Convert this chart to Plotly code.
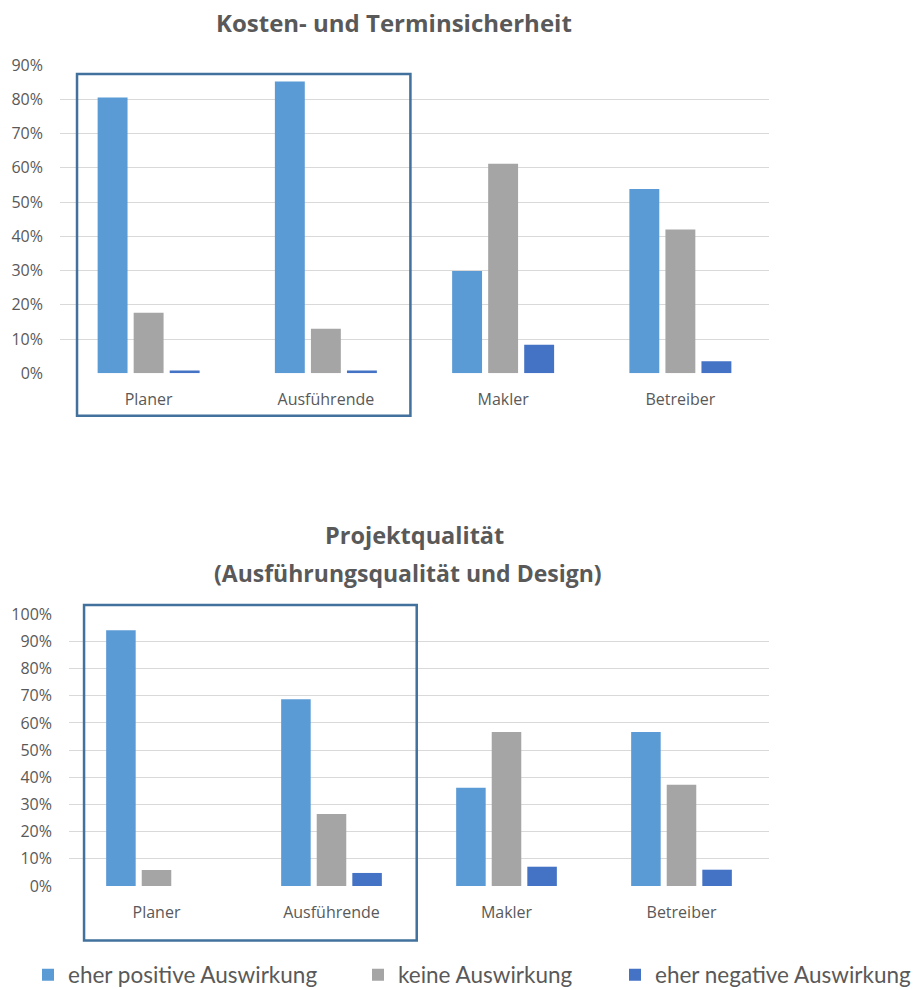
import plotly.graph_objects as go

categories = ["Planer", "Ausführende", "Makler", "Betreiber"]
series_names = ["eher positive Auswirkung", "keine Auswirkung", "eher negative Auswirkung"]
colors = ["#5B9BD5", "#A5A5A5", "#4472C4"]

# Chart 1: Kosten- und Terminsicherheit
kosten_positiv = [0.805, 0.852, 0.299, 0.538]
kosten_keine = [0.177, 0.130, 0.612, 0.420]
kosten_negativ = [0.008, 0.008, 0.083, 0.035]

# Chart 2: Projektqualität
qual_positiv = [0.941, 0.687, 0.362, 0.567]
qual_keine = [0.059, 0.265, 0.567, 0.373]
qual_negativ = [0.0, 0.048, 0.071, 0.060]

title1 = "Kosten- und Terminsicherheit"
title2a = "Projektqualität"
title2b = "(Ausführungsqualität und Design)"

W, H = 917, 990
FONT = "Open Sans"
LEG_FONT = "Lato"
GREY = "#595959"

def px_x(v):
    return v / W

def px_y(v):
    return 1 - v / H

fig = go.Figure()
top = [kosten_positiv, kosten_keine, kosten_negativ]
bot = [qual_positiv, qual_keine, qual_negativ]
legends = ["legend", "legend2", "legend3"]
for i in range(3):
    fig.add_trace(go.Bar(x=categories, y=top[i], name=series_names[i],
                         marker=dict(color=colors[i], line=dict(width=0)),
                         xaxis="x", yaxis="y", legend=legends[i], showlegend=True))
for i in range(3):
    fig.add_trace(go.Bar(x=categories, y=bot[i], name=series_names[i],
                         marker=dict(color=colors[i], line=dict(width=0)),
                         xaxis="x2", yaxis="y2", showlegend=False))

axis_common = dict(showgrid=False, showline=False, ticks="", zeroline=False, automargin=False,
                   tickfont=dict(family=FONT, size=16, color=GREY), fixedrange=True)
yaxis_common = dict(showgrid=True, gridcolor="#D9D9D9", gridwidth=1, zeroline=False,
                    showline=False, ticks="", tickformat=".0%", dtick=0.1, automargin=False,
                    tickfont=dict(family=FONT, size=16, color=GREY),
                    ticklabelstandoff=16, fixedrange=True)

fig.update_layout(
    width=W, height=H,
    margin=dict(l=0, r=0, t=0, b=0, autoexpand=False),
    paper_bgcolor="white", plot_bgcolor="white",
    barmode="group", bargap=0.39, bargroupgap=0.17,
    xaxis=dict(domain=[px_x(60), px_x(769)], anchor="y", ticklabelstandoff=15, **axis_common),
    yaxis=dict(domain=[px_y(373.3), px_y(65)], anchor="x", range=[0, 0.9], **yaxis_common),
    xaxis2=dict(domain=[px_x(69), px_x(769)], anchor="y2", ticklabelstandoff=15, **axis_common),
    yaxis2=dict(domain=[px_y(886), px_y(614.3)], anchor="x2", range=[0, 1.0], **yaxis_common),
    font=dict(family=FONT, color=GREY),
)

leg_common = dict(orientation="h", yanchor="middle", y=px_y(975), xanchor="left",
                  font=dict(family=LEG_FONT, size=22.5, color=GREY), bgcolor="rgba(0,0,0,0)")
fig.update_layout(
    legend=dict(x=px_x(28), **leg_common),
    legend2=dict(x=px_x(358), **leg_common),
    legend3=dict(x=px_x(615), **leg_common),
)

fig.add_annotation(text="<b>" + title1 + "</b>", x=px_x(394), y=px_y(22), xref="paper", yref="paper",
                   showarrow=False, xanchor="center", yanchor="middle",
                   font=dict(family=FONT, size=24, color=GREY))
fig.add_annotation(text="<b>" + title2a + "</b>", x=px_x(414), y=px_y(535), xref="paper", yref="paper",
                   showarrow=False, xanchor="center", yanchor="middle",
                   font=dict(family=FONT, size=23.5, color=GREY))
fig.add_annotation(text="<b>" + title2b + "</b>", x=px_x(408), y=px_y(573), xref="paper", yref="paper",
                   showarrow=False, xanchor="center", yanchor="middle",
                   font=dict(family=FONT, size=23, color=GREY))

# highlight frames around Planer & Ausführende
fig.add_shape(type="rect", xref="x", yref="y domain", x0=-0.404, x1=1.477, y0=-0.1375, y1=0.971,
              line=dict(color="#41719C", width=2.5), fillcolor="rgba(0,0,0,0)", layer="above")
fig.add_shape(type="rect", xref="x2", yref="y2 domain", x0=-0.414, x1=1.487, y0=-0.201, y1=1.034,
              line=dict(color="#41719C", width=2.5), fillcolor="rgba(0,0,0,0)", layer="above")

fig.write_html("out.html")
